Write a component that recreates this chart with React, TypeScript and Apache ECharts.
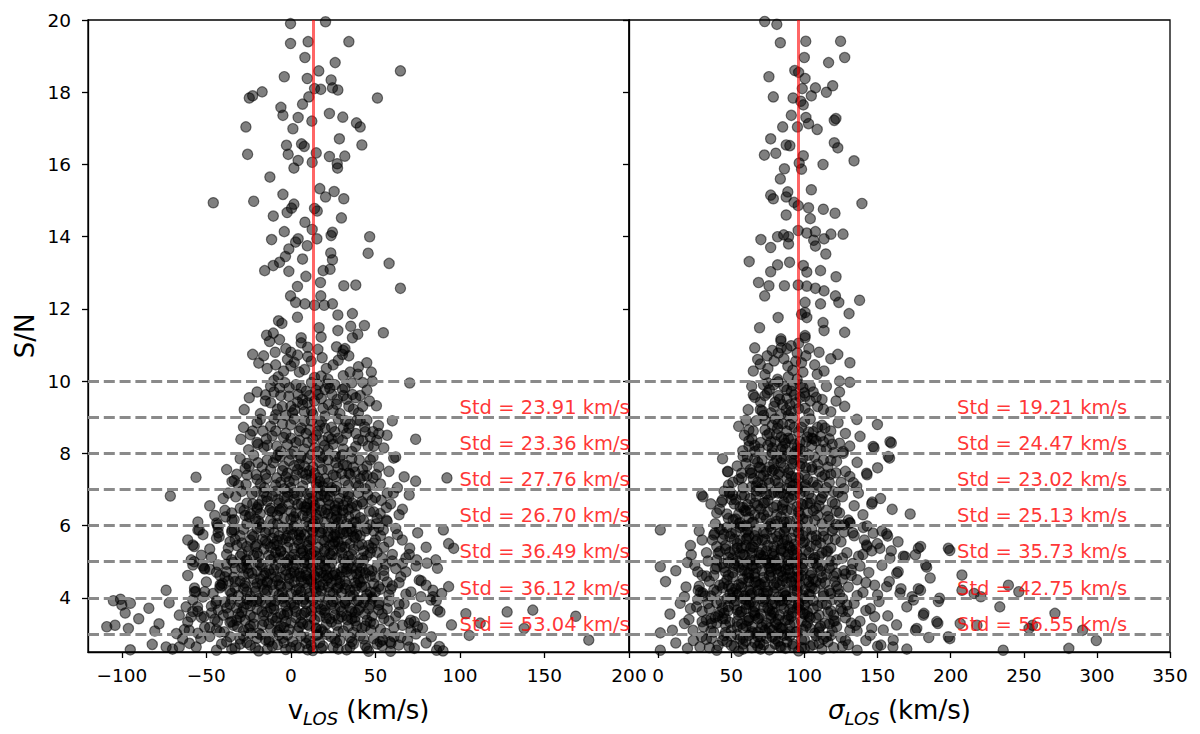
import React, { useEffect, useRef } from "react";
import * as echarts from "echarts";

// ---------- data ----------
// v_LOS panel: [v_LOS (km/s), S/N]
const vlosHigh: number[][] = [[-0.2,19.9],[20.5,19.95],[-0.2,19.35],[10.2,19.4],[34.3,19.4],[8.3,18.96],[26.2,18.82],[64.8,18.59],[16.5,18.59],[-3.9,18.43],[9.7,18.38],[23.8,18.34],[14,18.1],[24.6,18.12],[27.8,18.06],[17.7,18.08],[-17,18.01],[-22.6,17.9],[-24.6,17.84],[10.6,17.87],[51.2,17.84],[6.9,17.67],[-5.9,17.58],[-4.7,17.36],[4.3,17.3],[22.8,17.41],[30.7,17.31],[38.8,17.15],[41,17.04],[12.4,17.2],[-26.6,17.04],[1.2,16.99],[28.7,16.71],[-2.6,16.53],[6.3,16.57],[7.9,16.5],[42,16.54],[-25.6,16.28],[-1.6,16.28],[15,16.32],[22.8,16.22],[31.9,16.23],[4.3,16.11],[12.6,16.06],[27.4,16.02],[27.6,15.9],[1.8,15.9],[-12.4,15.65],[17.1,15.33],[25.6,15.25],[-4.7,15.17],[20.5,15.1],[31.3,15.05],[-45.9,14.94],[-22,14.98],[1.8,14.9],[0.4,14.79],[14,14.78],[15.6,14.71],[-2.2,14.67],[-10.4,14.57],[29.9,14.52],[8.3,14.4],[12.6,14.2],[-3.9,14.14],[24.6,14.12],[23.8,14.03],[46.6,14.0],[-11.4,13.92],[4.3,13.94],[2.8,13.85],[15.4,13.94],[9.7,13.75],[-1.2,13.66],[23.6,13.55],[45.7,13.54],[-3.2,13.45],[6.9,13.38],[24.6,13.36],[58.1,13.26],[-6.7,13.29],[-10.4,13.2],[-15.5,13.06],[-1.2,13.04],[19.1,13.06],[23.2,13.1],[8.9,12.9],[3.9,12.62],[17.5,12.73],[31.3,12.64],[38.4,12.66],[64.8,12.57],[-0.2,12.36],[17.7,12.36],[2.8,12.18],[8.3,12.14],[14,12.1],[24.6,12.14],[19.7,12.1],[36.4,11.87],[27.8,11.83],[3.9,11.77],[-7.3,11.67],[-5.3,11.6],[16.7,11.48],[35.4,11.52],[43.5,11.54],[27.8,11.4],[54.7,11.34],[-10.4,11.33],[-14.4,11.27],[6.1,11.2],[17.9,11.22],[39.6,11.3]];

const vlosSN9to11: number[][] = [[-6.7,11.15],[-12.6,11.1],[6.1,11.06],[36.4,11.2],[-22.6,10.74],[-16.1,10.7],[-9.3,10.8],[0,10.8],[4,10.72],[9.9,10.94],[18.5,10.65],[30.5,10.74],[32,10.9],[34.3,10.7],[44.9,10.51],[47.6,10.25],[-4.3,10.28],[0,10.42],[2,10.52],[8.1,10.32],[-7.5,10.12],[17.9,10.14],[22,10.05],[31,10.15],[39.6,10.19],[48.2,10.0],[70.3,9.95],[-2,10.6],[12,10.55],[25,10.45],[-14,10.35],[27,10.95],[14,10.1],[-10,10.02],[40,10.4],[31,10.85],
[-6.7,9.82],[-3.7,9.96],[6.1,9.82],[12.2,9.96],[20.1,9.77],[30.5,9.77],[36.4,9.63],[42.5,9.96],[27.4,9.49],[-24.6,9.54],[-15.1,9.45],[-27.6,9.21],[2.2,9.21],[-1.2,9.58],[6.9,9.49],[9.9,9.4],[14,9.45],[22.2,9.35],[34.3,9.3],[42.5,9.3],[50.6,9.32],[20.1,9.03],[-8.9,9.07],[16.1,9.63],[4.3,9.63],[0,9.3],[24.2,9.63],[46.5,9.45],[38.4,9.54],[12.2,9.17],[-20,9.7],[-12,9.85],[-5,9.3],[3,9.9],[8,9.15],[15,9.75],[19,9.25],[26,9.9],[29,9.1],[36,9.95],[45,9.75],[-3,9.05],[11,9.6],[33,9.5],[23,9.8],
[-9,10.45],[-3,10.9],[5,10.25],[10,10.68],[16,10.88],[21,10.35],[28,10.58],[35,10.25],[-19,10.5],[-6,9.6],[7,9.35],[16,9.9],[25,9.2],[31,9.6],[40,9.12],[-12,9.4],
[-15,9.62],[-8,9.22],[-1,9.82],[4,9.42],[9,9.72],[13,9.08],[18,9.52],[22,9.92],[27,9.36],[32,9.82],[37,9.22],[41,9.6],[-18,9.1],[-10,9.7],[1,9.12]];

const vlosSN7to9: number[][] = [[-18.1,8.94],[-22.6,8.62],[-16.5,8.62],[-29.6,8.39],[-19.5,8.25],[-8.3,8.2],[0,8.79],[6.1,8.7],[9.9,8.3],[1.8,8.06],[20.1,8.7],[22.2,8.45],[30.5,8.36],[34.3,8.7],[43.7,8.73],[51.8,8.77],[56.9,8.5],[50.8,8.36],[45.7,8.2],[73.8,8.39],[38.4,8.19],[14,8.15],[26,8.6],[18,8.88],[38.4,8.55],[-4.3,8.44],[-9,8.62],[32.4,8.9],[8.1,8.9],[22,8.1],[48.6,8.6],[42.5,8.35],[5,8.36],[-14.5,8.4],[15,8.5],
[-25,8.1],[-12,8.75],[-3,8.55],[3,8.3],[11,8.65],[16,8.05],[25,8.25],[28,8.95],[36,8.05],[41,8.9],[47,8.45],[55,8.15],[-20,8.85],[2,8.95],[13,8.4],[31,8.7],[19,8.35],[-6,8.05],[44,8.6],[60,8.9],
[-20,8.3],[-10,8.95],[-2,8.25],[9,8.55],[17,8.78],[24,8.4],[33,8.55],[39,8.92],[52,8.55],
[-24,8.52],[-16,8.16],[-11,8.48],[-5,8.82],[0,8.42],[5,8.62],[8,8.12],[12,8.9],[16,8.62],[20,8.22],[24,8.72],[28,8.42],[31,8.12],[35,8.82],[40,8.38],[45,8.92],[49,8.2],[-28,8.72],[-14,8.22],
[60.8,7.87],[-56.1,7.34],[-34.8,7.22],[-25.8,7.4],[-19.5,7.74],[-10.4,7.74],[-4.3,7.64],[-14.4,7.3],[1.8,7.25],[8.1,7.64],[18.5,7.55],[26.6,7.74],[34.3,7.45],[42.5,7.55],[50.6,7.41],[48.6,7.32],[73.8,7.23],[92.3,7.32],[-6.3,7.92],[5.8,7.88],[12.2,7.96],[22,7.82],[30.5,7.96],[40.5,7.82],[48.6,7.9],[-26.5,7.14],[-20.5,7.41],[-8.3,7.32],[0,7.05],[12.2,7.32],[22,7.18],[38.4,7.18],[26.6,7.36],[4,7.55],[16,7.05],[-15.5,7.05],[-24.6,7.64],[-33.5,7.25],
[-30,7.85],[-38,7.55],[-18,7.15],[-12,7.55],[-6,7.2],[-1,7.8],[3,7.4],[7,7.1],[10,7.85],[14,7.45],[17,7.75],[20,7.3],[24,7.05],[28,7.6],[32,7.25],[36,7.85],[40,7.1],[45,7.65],[53,7.15],[58,7.5],[62,7.9],[67,7.35],[-22,7.95],[15,7.15],[-8,7.95],
[-17,7.62],[-9,7.88],[-2,7.45],[5,7.7],[11,7.52],[19,7.92],[25,7.4],[33,7.66],[38,7.48],[47,7.82],[-27,7.58],[0,7.98],[9,7.28],[29,7.9],[41,7.3],
[-26,7.72],[-20,7.28],[-14,7.82],[-9,7.12],[-5,7.52],[-1,7.22],[2,7.66],[6,7.92],[9,7.42],[13,7.62],[16,7.32],[19,7.08],[22,7.56],[26,7.92],[30,7.44],[34,7.12],[37,7.62],[43,7.38],[47,7.12],[52,7.62],[-32,7.42],[-4,7.02],[18,7.88],[31,7.68]];

const vlosSN5to7: number[][] = [[-71.3,6.82],[60.6,6.9],[53.5,6.7],[56.5,6.5],[42.5,6.6],[34.3,6.8],[46.5,6.4],[26.2,6.98],[20.1,6.8],[6.1,6.6],[-2,6.8],[-14.4,6.8],[-22.6,6.6],[-18.1,6.33],[-6.7,6.42],[-10.4,6.05],[1.8,6.24],[9.9,6.24],[18.1,6.42],[26.2,6.15],[38.4,6.1],[50.6,6.05],[56.5,6.15],[-43.9,6.07],[-34.8,6.15],[-27.6,6.42],[-32.6,6.8],[12.2,6.9],[30.5,6.42],[4,6.85],[14,6.55],[-12.6,6.42],[22,6.7],[0,6.4],[36.4,6.62],[-24.6,6.24],[45.5,6.85],[-7.8,6.72],[9.9,6.6],[26.2,6.55],[-20.5,6.95],[1.8,5.98],[34.3,6.24],[52.8,6.33],[20,6.1],[-38.6,6.24],
[-48,6.55],[-40,6.75],[-35,6.35],[-29,6.95],[-26,6.05],[-17,6.7],[-12,6.15],[-9,6.95],[-4,6.2],[-1,6.6],[3,6.35],[6,6.95],[9,6.1],[11,6.75],[15,6.3],[18,6.85],[21,6.45],[24,6.95],[27,6.25],[29,6.75],[33,6.05],[36,6.5],[40,6.9],[43,6.15],[48,6.7],[51,6.2],[59,6.6],[64,6.3],[70,6.85],[-55,6.1],[-20,6.45],[13,6.05],[31,6.35],[-43.4,6.02],[-33.5,6.16],
[-31,7.12],[-23,6.88],[-15,7.42],[-7,6.62],[-3,7.35],[2,6.9],[7,7.46],[13,6.68],[17,7.22],[23,6.58],[27,7.08],[31,6.92],[35,7.42],[39,6.55],[44,7.02],[50,6.78],[-37,6.9],[-11,6.82],[19,6.96],[8,6.52],[-19,6.58],[45,7.38],[57,6.9],[63,7.05],[33,6.68],
[-39,6.42],[-33,5.62],[-27,6.28],[-23,5.75],[-19,6.12],[-15,5.58],[-11,6.38],[-7,5.72],[-5,6.48],[-1,5.55],[3,6.15],[6,5.82],[9,6.42],[12,5.62],[16,6.18],[19,5.92],[22,6.32],[25,5.68],[28,6.08],[31,5.78],[34,6.45],[38,5.66],[41,6.22],[45,5.92],[49,6.38],[53,5.72],[57,6.12],[62,5.92],[-45,6.28],[-29,5.52],[-8,6.05],[14,6.48],[36,5.84],[47,6.02],[4,5.6],[-20,6.5],[27,6.44],[66,6.45],
[54.7,5.88],[90.2,5.88],[65.9,5.6],[93.3,5.5],[96.3,5.37],[70.3,5.37],[-61,5.6],[-58,5.46],[-55,5.88],[-43,5.8],[-44,5.65],[-34.8,5.88],[-35,5.05],[-59,5.05],[-54.2,5.88],[-42.4,5.69],[-33.5,5.88],[-57.2,5.42],[-57.2,5.0],
[-28,5.9],[-22,5.7],[-18,5.95],[-14,5.5],[-10,5.8],[-6,5.3],[-3,5.65],[0,5.9],[2,5.2],[5,5.5],[8,5.75],[11,5.35],[14,5.95],[17,5.1],[19,5.6],[22,5.85],[25,5.3],[28,5.55],[31,5.9],[34,5.15],[37,5.7],[40,5.45],[44,5.85],[47,5.25],[50,5.6],[-25,5.3],[-19,5.15],[-12,5.05],[-8,5.45],[-1,5.05],[4,5.85],[9,5.05],[13,5.6],[16,5.4],[21,5.05],[26,5.75],[30,5.25],[35,5.5],[42,5.1],[55,5.4],[60,5.2],[63,5.75],[-32,5.45],[-38,5.2],[-16,5.35],[-5,5.95],[7,5.3],[23,5.45],[33,5.6],[46,5.45],[52,5.95],[-48,5.35],[-52,5.75],[-26,5.05],[12,5.9],[38,5.95],[58,5.55],[68,5.1],[75,5.8],[80,5.4],
[-43,5.95],[-36,5.55],[-30,5.15],[-24,5.6],[-20,5.25],[-11,5.65],[-7,5.1],[-2,5.4],[1,5.75],[3,5.05],[6,5.65],[10,5.45],[15,5.15],[18,5.8],[20,5.35],[24,5.95],[27,5.1],[29,5.8],[32,5.4],[36,5.05],[39,5.75],[43,5.3],[49,5.85],[54,5.1],[-15,5.8],[11,5.15],[26,5.55],
[-47,5.12],[-37,5.38],[-29,5.22],[-21,5.42],[-13,5.18],[-6,5.28],[0,5.12],[6,5.36],[12,5.22],[18,5.02],[24,5.16],[30,5.42],[36,5.2],[43,5.04],[51,5.26],[60,5.02],[-53,5.18],[-10,5.48],[25,5.48],[48,5.38],[70,5.2],[-27,5.02]];

const vlosSN4to5: number[][] = [[74.4,5.05],[80.5,4.96],[85.7,5.05],[86.7,4.82],[75.9,4.49],[80,4.35],[84,4.03],[89.2,4.12],[93.3,4.31],[-73.8,4.21],[-57,4.17],[-51,4.17],[-58,4.91],[-51,4.8],[-41.8,4.36],[-51.3,4.82],[-40.4,4.4],[-56.2,4.17],[76.9,4.03],
[-61,4.62],[-57,4.27],[-52,4.88],[-50,4.44],[-46,4.12],[-44,4.71],[-41,4.33],[-38,4.93],[-36,4.18],[-34,4.57],[-31,4.06],[-29,4.83],[-27,4.41],[-26,4.16],[-23,4.68],[-21,4.29],[-19,4.97],[-18,4.52],[-15,4.11],[-13,4.76],[-11,4.37],[-9,4.91],[-8,4.48],[-5,4.14],[-3,4.63],[-2,4.31],[1,4.86],[2,4.43],[4,4.07],[6,4.59],[9,4.26],[10,4.94],[12,4.51],[15,4.17],[16,4.74],[19,4.36],[20,4.89],[22,4.55],[25,4.12],[26,4.69],[28,4.28],[31,4.84],[32,4.46],[35,4.21],[36,4.64],[39,4.34],[40,4.96],[43,4.53],[45,4.09],[46,4.78],[49,4.39],[51,4.87],[53,4.24],[55,4.61],[58,4.08],[62,4.81],[64,4.42],[68,4.72],[71,4.16],[77,4.47],
[-48,4.79],[-39,4.58],[-33,4.27],[-28,4.62],[-24,4.04],[-17,4.38],[-12,4.66],[-6,4.84],[-1,4.54],[3,4.22],[7,4.82],[11,4.13],[14,4.61],[18,4.19],[23,4.85],[27,4.49],[30,4.14],[34,4.91],[38,4.22],[42,4.83],[47,4.16],[50,4.58],[56,4.93],[60,4.33],[-25,4.92],[-16,4.23],[-7,4.36],[0,4.11],[8,4.42],[17,4.03],[24,4.41],[33,4.72],[41,4.43],[48,4.02],[57,4.44],[66,4.95],[-37,4.47],[-14,4.21],[13,4.89],[37,4.06],[5,4.68],[21,4.62],[-4,4.02],[29,4.57],[44,4.69],[-20,4.74],[52,4.31],[-43,4.91],[74,4.88],[84,4.21],
[-42,4.62],[-33,4.82],[-25,4.68],[-17,4.86],[-9,4.58],[-3,4.76],[3,4.6],[9,4.72],[15,4.56],[21,4.78],[27,4.64],[33,4.8],[39,4.66],[47,4.6],[55,4.76],[65,4.58],[8,4.98],[41,4.72],[-15,4.68],[19,4.62],[-2,4.92],[32,4.98],
[-42,4.28],[-35,4.12],[-27,4.32],[-21,4.18],[-14,4.42],[-7,4.08],[-1,4.38],[5,4.26],[11,4.02],[17,4.32],[23,4.14],[29,4.4],[35,4.06],[42,4.3],[50,4.16],[59,4.24],[12,4.45],[68,4.1],[-33,4.45]];

const vlosSN2to4: number[][] = [[88.2,3.61],[103.5,3.56],[105.5,2.96],[127.9,3.61],[143.1,3.66],[138,3.15],[168.5,3.49],[176.2,2.83],[70.9,3.38],[74.9,3.2],[74,3.0],[83.1,2.92],[52.7,2.78],[58.8,2.78],[63.8,2.69],[70,2.64],[86.2,2.55],[-100.8,3.96],[-100,3.8],[-94.9,3.85],[-108.9,3.2],[-104,3.24],[-96.1,3.15],[-80.5,3.08],[-67.7,3.01],[-73.8,2.64],[-66,2.64],[-60.1,3.1],[-53.3,2.87],[-59.1,3.47],[-62,3.75],
[-55.2,3.75],[-51.3,3.48],[-43.4,3.34],[-39.4,3.06],[-44.4,3.85],[-31.6,3.2],[-23.7,3.02],[-12.8,2.83],[-2,2.97],[8.9,2.74],[23.7,2.92],[33.5,3.39],[47.3,3.11],[54.3,2.83],[59.2,2.74],[69,2.83],[73,3.34],[77.9,3.16],[87.8,2.65],[82.8,3.94],[86.8,3.66],
[-90,3.42],[-84,3.71],[-78,3.28],[-72,3.86],[-66,3.52],[-63,3.12],[-58,3.94],[-55,3.63],[-51,3.19],[-47,3.77],[-45,3.41],[-42,3.05],[-39,3.88],[-37,3.56],[-34,3.24],[-32,3.72],[-30,3.47],[-28,3.09],[-26,3.83],[-24,3.51],[-22,3.27],[-20,3.68],[-18,3.92],[-16,3.35],[-14,3.61],[-12,3.14],[-10,3.79],[-8,3.45],[-6,3.22],[-4,3.89],[-2,3.57],[0,3.31],[2,3.74],[4,3.08],[6,3.53],[8,3.96],[10,3.26],[12,3.65],[14,3.39],[16,3.84],[18,3.12],[20,3.58],[22,3.95],[24,3.33],[26,3.71],[28,3.06],[30,3.48],[32,3.87],[34,3.21],[36,3.62],[38,3.36],[40,3.93],[42,3.15],[44,3.55],[47,3.81],[49,3.28],[52,3.67],[55,3.43],[58,3.91],[61,3.18],[64,3.6],[67,3.84],[70,3.3],[74,3.72],[79,3.5],[86,3.92],[95,3.25],[-98,3.58],[-105,3.92],
[-43,3.66],[-35,3.97],[-27,3.38],[-19,3.02],[-11,3.44],[-3,3.77],[5,3.19],[13,3.93],[21,3.27],[29,3.75],[37,3.04],[45,3.38],[53,3.13],[62,3.49],[-53,3.46],[-15,3.85],[9,3.62],[33,3.5],[-29,3.6],[17,3.49],[41,3.73],[-7,3.1],[25,3.9],[57,3.7],[-61,3.33],[3,3.45],[48,3.97],[-23,3.91],[71,3.08],[112,3.3],
[-52,4.02],[-47,3.58],[-38,3.72],[-31,3.56],[-24,3.78],[-17,3.62],[-10,3.68],[-4,3.52],[2,3.82],[8,3.58],[14,3.74],[20,3.66],[26,3.52],[32,3.84],[38,3.6],[46,3.7],[54,3.56],[64,3.82],[-58,3.62],[-44,3.92],[-19,3.98],[-2,3.62],[27,3.96],[44,3.98],[7,3.9],[52,3.8],[-12,3.9],
[-48,3.18],[-41,2.72],[-36,3.32],[-30,2.86],[-25,3.14],[-21,2.62],[-17,3.24],[-13,2.78],[-9,3.36],[-5,2.88],[-1,3.12],[3,2.68],[7,3.28],[11,2.84],[15,3.16],[19,2.66],[23,3.42],[27,2.76],[31,3.08],[35,2.64],[39,3.22],[43,2.86],[47,3.32],[51,2.72],[56,3.02],[61,2.92],[-55,3.02],[-35,2.58],[-8,3.06],[16,2.98],[38,3.46],[66,3.24],[-60,2.74],[0,2.62],[28,2.58],
[-82,2.71],[-70,2.58],[-64,2.86],[-56,2.64],[-48,2.93],[-44,2.55],[-38,2.78],[-33,2.61],[-28,2.94],[-24,2.69],[-19,2.53],[-15,2.84],[-11,2.66],[-7,2.97],[-3,2.57],[1,2.79],[5,2.62],[9,2.91],[13,2.54],[17,2.76],[21,2.99],[25,2.63],[29,2.82],[33,2.56],[37,2.73],[41,2.95],[45,2.6],[49,2.87],[54,2.67],[59,2.52],[65,2.9],[73,2.6],[80,2.75],[90,2.53],[-95,2.56],[-30,2.72],[-8,2.7],[15,2.96],[35,2.9],[46,2.52],[12,2.68],[-20,2.88]];

// the densest part of the v_LOS cloud (S/N 2.5-7)
const vlosCore: number[][] = [[-26,6.62],[-21,6.18],[-16,6.92],[-12,6.48],[-8,6.28],[-4,6.78],[0,6.18],[4,6.58],[7,6.28],[10,6.88],[14,6.12],[17,6.62],[20,6.35],[23,6.82],[26,6.42],[30,6.18],[34,6.88],[38,6.32],[42,6.66],[-30,6.48],[-2,6.92],[12,6.38],[28,6.62],[-18,6.04],
[-30,5.72],[-26,5.42],[-22,5.18],[-17,5.62],[-13,5.88],[-9,5.26],[-5,5.62],[-2,5.92],[2,5.38],[5,5.74],[8,5.14],[11,5.56],[14,5.28],[17,5.82],[20,5.56],[23,5.22],[26,5.96],[29,5.38],[33,5.82],[37,5.34],[41,5.72],[45,5.16],[49,5.52],[-35,5.82],[-20,5.92],[-4,5.16],[10,5.98],[31,5.08],[-12,5.4],[22,5.68],
[-38,4.72],[-34,4.98],[-30,4.46],[-26,4.82],[-22,4.52],[-18,4.92],[-14,4.46],[-10,4.78],[-6,4.56],[-3,4.98],[0,4.68],[3,4.92],[6,4.46],[9,4.62],[12,4.82],[15,4.38],[18,4.7],[21,4.48],[24,4.96],[27,4.26],[30,4.72],[33,4.36],[36,4.82],[40,4.52],[44,4.3],[48,4.74],[-28,4.26],[-10,4.2],[6,4.16],[22,4.3],[38,4.42],[-20,4.4],
[-40,3.52],[-36,3.82],[-32,3.38],[-28,3.74],[-24,3.22],[-20,3.9],[-16,3.52],[-13,3.28],[-9,3.92],[-6,3.56],[-3,3.34],[0,3.86],[3,3.62],[6,3.32],[9,3.84],[12,3.48],[15,3.14],[18,3.68],[21,3.44],[24,3.82],[27,3.24],[30,3.62],[33,3.92],[36,3.42],[40,3.66],[44,3.22],[48,3.5],[52,3.86],[-44,3.12],[-5,3.98],[19,3.06],[39,3.92],[58,3.36],[-26,3.96],
[-36,2.92],[-26,2.76],[-14,2.58],[-4,2.76],[6,2.94],[18,2.6],[26,2.86],[36,2.78],[44,2.68],[-18,2.98],[10,2.56],
[-24,6.32],[-14,6.68],[-6,6.46],[2,6.72],[9,6.5],[16,6.82],[24,6.22],[31,6.56],[37,6.08],[-20,5.48],[-10,5.12],[-2,5.72],[6,5.24],[13,5.84],[20,5.28],[27,5.68],[35,5.92],[42,5.48],[-28,4.92],[-16,4.62],[-6,4.32],[2,4.72],[10,4.52],[17,4.92],[25,4.62],[32,4.26],[39,4.82],[-30,3.88],[-22,3.46],[-12,3.72],[-4,3.18],[4,3.96],[11,3.22],[20,3.78],[28,3.42],[35,3.72],[43,3.86],[-35,3.34],[14,4.28],[-8,5.58]];

// sigma_LOS panel: [sigma_LOS (km/s), S/N]
const sigmaHigh: number[][] = [[72.8,19.96],[81.1,19.88],[83.5,19.37],[100.9,19.41],[124.7,19.41],[99.9,18.96],[127.5,18.96],[116.5,18.82],[93.4,18.6],[96,18.55],[75.7,18.43],[100.4,18.38],[107.5,18.12],[119.3,18.18],[115,18.0],[98.5,18.1],[104.7,17.9],[78.7,17.87],[92.2,17.84],[97.5,17.75],[99.2,17.65],[91,17.36],[101,17.3],[120.4,17.22],[121.5,17.27],[85.1,17.04],[95.2,17.04],[102.8,17.13],[108.7,16.97],[76.9,16.71],[87.5,16.54],[90,16.52],[120.4,16.6],[122.8,16.46],[72.6,16.26],[80.4,16.31],[99.2,16.24],[96.4,16.04],[98,15.87],[112.7,16.0],[133.9,16.1],[86.3,15.88],[83.5,15.6],[104.7,15.3],[76.9,15.15],[78.7,15.05],[88.6,15.24],[87.5,15.1],[92.9,14.95],[95.7,14.86],[102.8,14.8],[112.9,14.76],[120.9,14.65],[139.3,14.92],[87.5,14.6],[104,14.5],[70.2,13.92],[81.6,14.0],[85.8,14.05],[89.1,14.0],[95.7,14.17],[101.6,14.1],[107.5,14.14],[118.1,14.07],[126.4,14.07],[76.9,13.7],[89.1,13.8],[106.3,13.9],[113.4,13.94],[107.5,13.74],[114.6,13.52],[62.2,13.31],[81.6,13.22],[89.8,13.29],[99.2,13.2],[76.9,13.03],[101.6,13.02],[111,13.06],[121.6,12.89],[68.6,12.73],[75.7,12.64],[86.3,12.64],[95.7,12.66],[101.6,12.63],[107.5,12.57],[113.4,12.5],[72.8,12.36],[121.2,12.36],[123.5,12.18],[137.7,12.24],[100.4,12.18],[111,12.14],[100.4,11.9],[98,11.85],[130.5,11.87],[82,11.76],[101.6,11.76],[69.3,11.48],[112.7,11.62],[113.4,11.4],[127.5,11.35],[83.9,11.17],[100.4,11.26]];

const sigmaSN9to11: number[][] = [[83.9,11.11],[90.9,10.98],[100.4,11.2],[122.8,10.74],[131.1,10.51],[74.5,10.7],[79.2,10.56],[88.6,10.42],[65,10.28],[69.8,10.47],[81.6,10.05],[98,10.51],[108.7,10.19],[113.4,10.28],[124,10.0],[131,9.97],[78,10.85],[86,10.62],[92,10.3],[95,10.78],[103,10.9],[107,10.45],[89,10.12],[99,10.25],[84,10.92],[118,10.62],[73,10.18],[96,11.05],
[63.9,9.86],[74.5,9.67],[91,9.72],[100.4,9.58],[112,9.49],[61.5,9.21],[69.8,9.21],[79.2,9.3],[87.5,9.21],[100.4,9.25],[121.6,9.45],[127.5,9.3],[66,9.55],[72,9.9],[77,9.12],[83,9.5],[86,9.85],[89,9.05],[94,9.4],[97,9.9],[103,9.1],[106,9.7],[109,9.3],[115,9.85],[118,9.15],[82,9.98],[93,9.62],[70,9.42],[124,9.7],[99,9.82],
[68,10.6],[75,10.35],[82,10.78],[88,10.9],[94,10.55],[101,10.7],[79,9.9],[85,9.35],[91,9.15],[97,9.55],[104,9.45],[73,9.6],[88,9.75],[95,10.05],[66,10.92],[110,10.8],[82,9.6],
[65,9.62],[71,9.18],[76,9.76],[80,9.42],[84,9.08],[88,9.52],[92,9.88],[96,9.24],[100,9.68],[104,9.86],[108,9.55],[113,9.22],[75,9.95],[90,9.35]];

const sigmaSN7to9: number[][] = [[58.9,8.5],[64,8.4],[57.8,8.07],[74.5,8.5],[81.6,8.69],[91,8.4],[102.8,8.59],[112,8.78],[116.9,8.4],[135.8,8.94],[149.9,8.8],[138,8.47],[147.6,8.15],[159.4,8.29],[147,8.19],[158.5,8.32],[126.5,8.0],[126.4,8.05],
[55,8.75],[62,8.2],[67,8.9],[70,8.3],[73,8.65],[78,8.15],[80,8.95],[84,8.45],[87,8.1],[90,8.8],[93,8.25],[96,8.6],[99,8.05],[104,8.95],[108,8.35],[111,8.1],[114,8.7],[119,8.25],[123,8.85],[128,8.55],[131,8.2],[76,8.55],[88,8.62],[101,8.32],[66,8.05],
[78,8.78],[85,8.82],[92,8.98],[98,8.72],[72,9.05],[106,8.6],[62,8.65],
[60,8.92],[65,8.62],[69,8.12],[73,8.92],[77,8.32],[81,8.52],[85,8.18],[89,8.42],[93,8.72],[97,8.32],[100,8.88],[105,8.42],[109,8.72],[113,8.32],[118,8.62],[124,8.28],[82,8.82],[94,8.05],
[62,8.35],[69,7.62],[75,8.22],[81,7.85],[86,8.38],[90,7.55],[95,8.15],[98,7.72],[102,8.45],[107,7.9],[111,8.48],[116,7.62],[66,7.85],[84,8.1],[93,7.98],[105,8.22],[78,7.52],[120,8.02],
[47.4,7.5],[64,7.46],[79.2,7.55],[83.9,7.74],[91,7.36],[105.1,7.55],[158.2,7.87],[157.3,7.91],[121.6,7.46],[131,7.36],[142.8,7.41],[142.5,7.45],[133.4,7.19],[135.7,7.08],[47.7,7.49],
[44,7.85],[51,7.2],[54,7.65],[58,7.05],[61,7.9],[65,7.3],[68,7.75],[71,7.1],[74,7.5],[77,7.95],[80,7.25],[83,7.05],[86,7.6],[88,7.3],[91,7.85],[94,7.15],[97,7.65],[100,7.4],[103,7.95],[106,7.2],[109,7.7],[112,7.35],[115,7.05],[118,7.8],[125,7.2],[136,7.75],[150,7.6],[70,7.6],[96,7.02],[57,7.45],[84,7.88],
[58,7.92],[63,7.55],[67,7.1],[71,7.82],[75,7.28],[79,7.72],[82,7.18],[86,7.92],[89,7.46],[93,7.82],[96,7.32],[99,7.88],[102,7.28],[105,7.62],[109,7.12],[113,7.82],[118,7.42],[122,7.78],[55,7.28],[76,7.62],[100,7.08],[128,7.5]];

const sigmaSN5to7: number[][] = [[29.7,6.85],[43.9,6.71],[48.6,6.9],[30.6,6.8],[43.2,6.65],[48.9,6.94],[51.2,6.16],[146.4,6.65],[136.9,6.9],[172.3,6.32],[146,6.6],[121.6,6.03],[131,6.07],[142.8,5.99],[124.2,6.02],[131.1,6.08],
[36,6.6],[40,6.35],[45,6.95],[48,6.2],[52,6.6],[55,6.05],[57,6.85],[60,6.4],[63,6.75],[65,6.1],[68,6.55],[70,6.95],[72,6.3],[75,6.7],[77,6.05],[79,6.5],[82,6.9],[84,6.25],[86,6.65],[88,6.1],[91,6.45],[93,6.85],[95,6.2],[98,6.6],[100,6.95],[102,6.35],[105,6.75],[107,6.15],[110,6.55],[113,6.9],[116,6.25],[119,6.65],[122,6.4],[126,6.8],[130,6.15],[134,6.55],[140,6.3],[152,6.75],[160,6.45],[62,6.22],[74,6.88],[81,6.12],[89,6.78],[97,6.28],[108,6.48],[66,6.62],[58,6.5],[112,6.05],[123,6.92],[51,6.85],
[48,7.12],[53,6.72],[57,7.32],[61,6.58],[64,7.08],[67,6.82],[70,7.38],[73,6.64],[76,7.18],[79,6.92],[82,7.42],[85,6.56],[88,7.02],[91,6.74],[94,7.32],[97,6.88],[101,7.12],[104,6.62],[108,7.06],[112,6.78],[117,7.2],[121,6.6],[127,7.02],[56,6.52],[71,7.02],[86,6.86],[99,6.58],[114,7.4],[63,7.45],[92,7.1],
[39,6.05],[44,5.62],[47,6.32],[50,5.78],[53,6.18],[56,5.58],[59,6.42],[62,5.72],[64,6.08],[67,5.56],[70,6.22],[72,5.82],[75,6.38],[78,5.64],[80,6.02],[83,5.78],[85,6.45],[88,5.6],[90,6.12],[93,5.84],[96,6.38],[99,5.52],[102,6.14],[105,5.7],[109,6.28],[113,5.86],[117,6.16],[121,5.62],[127,6.02],[134,5.72],[42,5.9],[58,5.98],[66,6.3],[76,5.98],[87,5.92],[97,6.0],[108,5.6],[60,6.0],[81,6.3],[124,6.35],
[1.4,5.88],[22.6,5.19],[38,5.74],[38.6,5.79],[40.9,5.23],[156.9,5.71],[159.4,5.3],[168.8,5.14],[175.9,5.19],[179.4,5.42],[149.9,5.5],[142.8,5.42],[199.4,5.31],[140.2,5.95],[147,5.79],[156.2,5.77],[142.5,5.46],[151.6,5.37],[158.5,5.1],[167.6,5.15],[177.9,5.37],[198.4,5.37],
[22,5.45],[28,5.85],[33,5.25],[37,5.6],[40,5.05],[43,5.9],[46,5.35],[49,5.7],[51,5.1],[54,5.5],[56,5.95],[58,5.2],[61,5.65],[63,5.05],[65,5.4],[67,5.85],[69,5.25],[71,5.6],[73,5.05],[75,5.45],[77,5.9],[79,5.3],[81,5.7],[83,5.1],[85,5.5],[87,5.95],[89,5.2],[91,5.65],[94,5.35],[96,5.8],[98,5.1],[100,5.55],[103,5.25],[105,5.9],[108,5.45],[110,5.15],[113,5.7],[116,5.3],[119,5.85],[122,5.05],[125,5.55],[129,5.25],[133,5.8],[137,5.15],[141,5.6],[146,5.3],[153,5.85],[164,5.55],[30,5.6],[47,5.95],[60,5.45],[72,5.15],[86,5.28],[99,5.72],[111,5.52],[127,5.82],[52,5.32],[66,5.72],[80,5.02],[93,5.48],[106,5.08],[118,5.38],
[34,5.02],[42,5.28],[48,5.12],[54,5.38],[59,5.18],[64,5.42],[69,5.08],[74,5.3],[79,5.14],[84,5.36],[89,5.02],[95,5.22],[101,5.32],[107,5.12],[115,5.28],[126,5.1],[140,5.2],[46,5.45],[90,5.4],[66,5.05]];

const sigmaSN4to5: number[][] = [[1.4,4.86],[182.9,4.91],[207.7,4.63],[164.1,4.72],[179.4,4.21],[173.6,4.03],[207.7,4.21],[216,4.12],[220.6,4.03],[239.5,4.35],[246.6,4.17],[17.9,4.03],[27.3,4.21],[30.6,4.13],[183.6,4.85],[163.1,4.68],[156.2,4.31],[165.3,4.13],[177.9,4.25],
[5,4.45],[12,4.75],[19,4.3],[25,4.9],[29,4.15],[33,4.6],[36,4.05],[39,4.8],[42,4.35],[44,4.95],[47,4.5],[49,4.1],[51,4.7],[53,4.25],[55,4.85],[57,4.4],[59,4.05],[61,4.65],[63,4.2],[65,4.9],[67,4.45],[69,4.1],[71,4.75],[73,4.3],[75,4.95],[77,4.55],[79,4.15],[81,4.8],[83,4.35],[85,4.6],[87,4.05],[89,4.9],[91,4.45],[93,4.2],[95,4.75],[97,4.35],[99,4.95],[101,4.5],[103,4.1],[105,4.7],[107,4.25],[109,4.85],[111,4.4],[113,4.05],[115,4.65],[117,4.2],[119,4.9],[121,4.45],[124,4.1],[127,4.75],[130,4.3],[133,4.95],[136,4.5],[140,4.15],[144,4.7],[148,4.35],[153,4.9],[158,4.45],[166,4.25],[186,4.55],[30,4.62],[40,4.18],[46,4.72],[54,4.08],[62,4.55],[70,4.38],[76,4.82],[82,4.02],[88,4.42],[94,4.92],[100,4.22],[106,4.52],[112,4.88],[118,4.12],[126,4.52],[138,4.88],[150,4.08],[58,4.92],[74,4.12],[90,4.68],[104,4.32],[122,4.68],[142,4.42],[20,4.98],[48,4.32],[66,4.68],[84,4.88],[98,4.62],[114,4.42],[132,4.62],
[38,4.62],[45,4.84],[51,4.58],[57,4.76],[62,4.68],[67,4.82],[72,4.56],[77,4.72],[82,4.64],[87,4.78],[92,4.58],[98,4.84],[104,4.62],[111,4.74],[120,4.6],[132,4.78],[27,4.72],[61,4.96],[76,4.98],[105,4.98],[118,5.02],[52,4.9],[80,4.9],
[28,4.32],[38,4.22],[45,4.4],[51,4.14],[57,4.3],[63,4.08],[69,4.36],[75,4.18],[81,4.42],[87,4.2],[93,4.34],[99,4.06],[105,4.28],[113,4.12],[123,4.24],[136,4.06],[32,4.05],[47,3.98],[62,4.45],[92,4.02],[108,4.45],[70,3.98],[85,4.48]];

const sigmaSN2to4: number[][] = [[192.4,3.99],[233.6,3.75],[181.7,3.57],[191.2,3.29],[175.9,3.1],[206.5,3.29],[218,3.24],[253.6,3.15],[256,3.24],[271.3,3.57],[290.2,3.1],[299.6,2.82],[235.9,2.55],[280.8,2.6],[199.4,2.87],[160.5,2.64],[152.3,2.69],[1.4,3.03],[1.4,2.55],[9.7,3.1],[17.9,3.29],[23.8,3.1],[26.2,3.75],[29.7,2.92],[28.5,2.64],[36.4,3.29],[32.9,3.39],[36.4,2.88],[58,2.88],[69.5,2.74],[83.2,2.65],[174.5,3.94],[191.6,3.9],[181.3,3.52],[190.5,3.34],[176.8,3.15],[198.4,2.92],[153.9,3.11],[160.7,2.83],
[8,3.55],[15,3.85],[21,3.4],[27,3.95],[31,3.2],[35,3.7],[38,3.05],[41,3.5],[43,3.9],[46,3.25],[48,3.65],[50,3.1],[52,3.8],[54,3.35],[56,3.6],[58,3.15],[60,3.95],[62,3.45],[64,3.2],[66,3.75],[68,3.05],[70,3.55],[72,3.9],[74,3.3],[76,3.65],[78,3.1],[80,3.85],[82,3.4],[84,3.15],[86,3.7],[88,3.95],[90,3.25],[92,3.6],[94,3.05],[96,3.8],[98,3.35],[100,3.55],[102,3.9],[104,3.15],[106,3.7],[108,3.45],[110,3.05],[112,3.85],[114,3.3],[116,3.6],[119,3.95],[122,3.2],[125,3.7],[128,3.45],[131,3.1],[134,3.85],[138,3.35],[142,3.65],[146,3.15],[151,3.9],[157,3.5],[163,3.25],[170,3.75],[44,3.42],[57,3.28],[63,3.88],[71,3.18],[79,3.58],[87,3.38],[95,3.72],[103,3.48],[111,3.22],[120,3.52],[136,3.08],[148,3.48],[50,3.98],[66,3.52],[83,3.92],[99,3.12],[117,3.28],[130,3.62],[40,3.3],[60,3.7],[75,3.02],[91,3.82],[107,3.02],[126,3.98],
[22,3.7],[34,3.84],[42,3.6],[48,3.76],[54,3.66],[60,3.82],[66,3.58],[72,3.74],[78,3.62],[84,3.8],[90,3.68],[96,3.86],[102,3.6],[109,3.78],[118,3.64],[129,3.8],[145,3.7],[77,3.95],[55,3.52],[100,3.8],[124,3.9],
[24,2.82],[30,3.34],[36,3.08],[41,2.68],[46,3.42],[50,2.94],[54,3.2],[58,2.72],[62,3.38],[65,3.02],[68,2.66],[71,3.26],[74,2.88],[77,3.44],[80,2.72],[83,3.18],[86,2.96],[89,3.4],[92,2.66],[95,3.06],[98,2.84],[102,3.3],[106,2.7],[110,3.16],[115,2.92],[121,3.36],[128,2.82],[135,3.24],[145,2.96],[39,3.46],[56,2.86],[73,3.1],[88,2.78],[104,3.44],[119,3.08],
[12,2.75],[20,2.6],[33,2.85],[40,2.55],[45,2.95],[50,2.68],[55,2.52],[60,2.8],[64,2.62],[68,2.93],[72,2.7],[76,2.56],[80,2.87],[84,2.64],[88,2.98],[92,2.72],[96,2.53],[100,2.84],[104,2.66],[108,2.95],[112,2.58],[116,2.78],[120,2.62],[125,2.9],[130,2.7],[136,2.55],[142,2.82],[150,2.66],[170,2.58],[185,2.9],[58,2.58],[78,2.92],[98,2.62],[118,2.96],[47,2.78],[87,2.6],[110,2.74]];

// the densest part of the sigma_LOS cloud (S/N 2.5-8.5)
const sigmaCore: number[][] = [[60,7.72],[66,8.22],[72,7.38],[78,8.02],[83,7.48],[87,8.28],[92,7.72],[97,8.12],[101,7.6],[106,8.4],[110,7.5],[115,8.12],[68,7.2],[90,7.18],[80,8.32],
[42,6.45],[50,6.72],[55,6.32],[59,6.84],[63,6.42],[67,6.96],[70,6.46],[74,6.18],[77,6.86],[81,6.56],[84,6.9],[88,6.42],[91,6.98],[95,6.52],[99,6.18],[103,6.88],[106,6.42],[111,6.72],[115,6.42],[120,6.94],[56,6.08],[86,6.1],[72,6.62],[102,6.62],
[40,5.42],[45,5.76],[49,5.26],[53,5.82],[57,5.38],[61,5.88],[64,5.24],[68,5.62],[71,5.34],[74,5.78],[78,5.22],[82,5.58],[86,5.82],[89,5.44],[93,5.18],[97,5.62],[101,5.86],[104,5.42],[108,5.72],[112,5.24],[116,5.62],[120,5.92],[54,5.02],[76,5.04],[95,5.96],[60,5.62],[84,5.32],
[35,4.46],[40,4.86],[44,4.28],[48,4.62],[52,4.96],[55,4.36],[59,4.76],[62,4.22],[66,4.58],[70,4.96],[73,4.44],[77,4.84],[80,4.28],[84,4.72],[88,4.56],[91,4.96],[95,4.32],[99,4.78],[103,4.44],[108,4.96],[112,4.56],[117,4.82],[122,4.32],[128,4.66],[50,4.26],[68,4.2],[86,4.12],[104,4.08],[64,4.88],[96,4.58],
[30,3.62],[36,3.42],[40,3.86],[45,3.58],[49,3.32],[53,3.92],[57,3.62],[61,3.36],[65,3.88],[69,3.44],[73,3.96],[77,3.52],[81,3.26],[85,3.92],[89,3.52],[93,3.32],[97,3.66],[101,3.22],[106,3.92],[110,3.52],[115,3.82],[120,3.36],[126,3.62],[132,3.3],[46,3.04],[64,3.06],[82,3.02],[100,3.98],[58,3.98],[76,3.16],
[35,2.62],[44,2.82],[52,2.66],[62,2.96],[70,2.58],[82,2.8],[90,2.94],[100,2.6],[113,2.86],[126,2.66],[66,2.76],
[52,5.62],[56,5.22],[60,5.82],[63,5.36],[66,4.42],[70,5.18],[73,5.62],[76,4.62],[79,5.42],[82,4.92],[86,5.62],[89,4.78],[92,5.32],[95,4.58],[98,5.08],[58,4.52],[62,3.82],[68,3.42],[72,4.12],[75,3.72],[79,4.36],[83,3.52],[87,4.06],[91,3.48],[95,4.18],[99,3.58],[55,4.12],[65,3.62],[85,3.16],[60,3.22],[70,2.92],[80,3.32],[90,3.06],[54,2.98],[44,3.72],[48,4.98],[64,4.12],[94,4.98],[78,3.82],[88,5.12]];

// S/N cut levels (dashed lines) and the per-bin dispersions
const snrLevels = [3, 4, 5, 6, 7, 8, 9, 10];
const stdBinLower = [9, 8, 7, 6, 5, 4, 3];
const vlosStd = ["23.91", "23.36", "27.76", "26.70", "36.49", "36.12", "53.04"];
const sigmaStd = ["19.21", "24.47", "23.02", "25.13", "35.73", "42.75", "56.55"];
const vlosMedian = 13.5;
const sigmaMedian = 96;
const vlosTicks = [-100, -50, 0, 50, 100, 150, 200];
const sigmaTicks = [0, 50, 100, 150, 200, 250, 300, 350];
const snrTicks = [4, 6, 8, 10, 12, 14, 16, 18, 20];

const FONT = "DejaVu Sans";

export default function App() {
  const ref = useRef<HTMLDivElement>(null);
  useEffect(() => {
    if (!ref.current) return;
    const chart = echarts.init(ref.current, undefined, { renderer: "svg" });
    const vlosAll = [...vlosHigh, ...vlosSN9to11, ...vlosSN7to9, ...vlosSN5to7, ...vlosSN4to5, ...vlosSN2to4, ...vlosCore];
    const sigmaAll = [...sigmaHigh, ...sigmaSN9to11, ...sigmaSN7to9, ...sigmaSN5to7, ...sigmaSN4to5, ...sigmaSN2to4, ...sigmaCore];

    const minus = (v: number) => (v < 0 ? "\u2212" + Math.abs(v) : String(v));

    const richSub = {
      a: { fontSize: 26, fontFamily: FONT, color: "#000", verticalAlign: "top", lineHeight: 30 },
      g: { fontSize: 26, fontFamily: FONT, color: "#000", fontStyle: "italic", verticalAlign: "top", lineHeight: 30 },
      b: { fontSize: 18, fontFamily: FONT, color: "#000", fontStyle: "italic", verticalAlign: "bottom", lineHeight: 18 },
    };

    const xAxisBase = (gridIndex: number, min: number, max: number, ticks: number[], name: string) => ({
      type: "value",
      gridIndex,
      min,
      max,
      axisLine: { show: true, onZero: false, lineStyle: { color: "#000", width: 1.3 } },
      axisTick: { show: true, length: 6, inside: false, customValues: ticks, lineStyle: { color: "#000", width: 1.3 } },
      axisLabel: { show: true, customValues: ticks, formatter: minus, fontSize: 18.5, color: "#000", fontFamily: FONT, margin: 14 },
      splitLine: { show: false },
      name,
      nameLocation: "middle",
      nameGap: 45,
      nameMoveOverlap: false,
      nameTextStyle: { fontSize: 26, color: "#000", fontFamily: FONT, rich: richSub },
    });

    const yAxisBase = (gridIndex: number, showLabels: boolean) => ({
      type: "value",
      gridIndex,
      min: 2.5,
      max: 20,
      axisLine: { show: true, onZero: false, lineStyle: { color: "#000", width: 1.3 } },
      axisTick: { show: true, length: 6, customValues: snrTicks, lineStyle: { color: "#000", width: 1.3 } },
      axisLabel: { show: showLabels, customValues: snrTicks, fontSize: 18.5, color: "#000", fontFamily: FONT, margin: 17 },
      splitLine: { show: false },
      name: showLabels ? "S/N" : "",
      nameLocation: "middle",
      nameGap: 50,
      nameMoveOverlap: false,
      nameTextStyle: { fontSize: 26, color: "#000", fontFamily: FONT },
    });

    const scatter = (idx: number, data: number[][]) => ({
      type: "scatter",
      xAxisIndex: idx,
      yAxisIndex: idx,
      data,
      symbol: "circle",
      symbolSize: 10.3,
      clip: true,
      z: 2,
      silent: true,
      itemStyle: { color: "rgba(0,0,0,0.5)", borderColor: "rgba(0,0,0,0.5)", borderWidth: 1.2, opacity: 1 },
    });

    const lines = (idx: number, median: number) => ({
      type: "scatter",
      xAxisIndex: idx,
      yAxisIndex: idx,
      data: [],
      z: 3,
      silent: true,
      markLine: {
        silent: true,
        symbol: ["none", "none"],
        animation: false,
        label: { show: false },
        data: [
          ...snrLevels.map((v) => ({ yAxis: v, lineStyle: { color: "#8a8a8a", width: 3, type: [11, 4.8] } })),
          { xAxis: median, lineStyle: { color: "rgba(255,0,0,0.6)", width: 3, type: "solid" } },
        ],
      },
    });

    const texts = (idx: number, xText: number, stds: string[]) => ({
      type: "scatter",
      xAxisIndex: idx,
      yAxisIndex: idx,
      z: 4,
      silent: true,
      symbol: "circle",
      symbolSize: 1,
      itemStyle: { color: "rgba(0,0,0,0)" },
      data: stds.map((s, i) => [xText, stdBinLower[i] + 0.27, s]),
      label: {
        show: true,
        position: "right",
        distance: 0,
        formatter: (p: any) => "Std = " + p.data[2] + " km/s",
        color: "#ff0000",
        fontSize: 19.5,
        fontFamily: FONT,
      },
    });

    chart.setOption({
      animation: false,
      backgroundColor: "#fff",
      grid: [
        { left: 88, top: 20, width: 541, height: 632, show: true, borderColor: "#000", borderWidth: 1.3, backgroundColor: "transparent" },
        { left: 629, top: 20, width: 541, height: 632, show: true, borderColor: "#000", borderWidth: 1.3, backgroundColor: "transparent" },
      ],
      xAxis: [
        xAxisBase(0, -120, 200, vlosTicks, "{a|v}{b|LOS}{a| (km/s)}"),
        xAxisBase(1, -20, 350, sigmaTicks, "{g|\u03c3}{b|LOS}{a| (km/s)}"),
      ],
      yAxis: [yAxisBase(0, true), yAxisBase(1, false)],
      series: [
        scatter(0, vlosAll),
        scatter(1, sigmaAll),
        lines(0, vlosMedian),
        lines(1, sigmaMedian),
        texts(0, 99.5, vlosStd),
        texts(1, 204, sigmaStd),
      ],
    });
    return () => chart.dispose();
  }, []);

  return (
    <div
      ref={ref}
      style={{ position: "absolute", left: 0, top: 0, width: 1200, height: 734, background: "#fff" }}
    />
  );
}
